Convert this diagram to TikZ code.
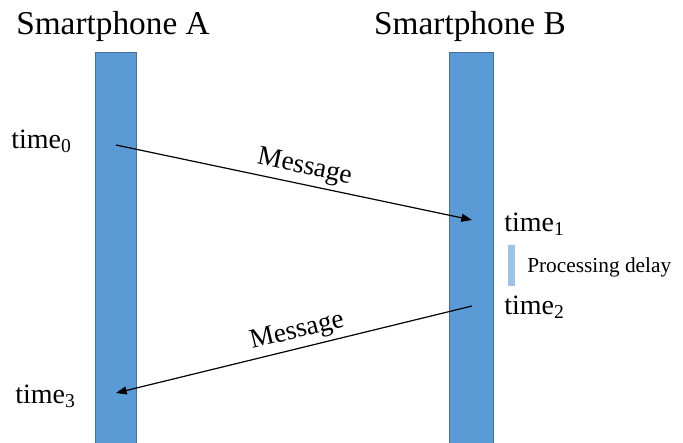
\documentclass[tikz,border=0pt]{standalone}
\usepackage{fontspec}
\setmainfont{Liberation Serif}
\usetikzlibrary{arrows.meta}
\definecolor{barblue}{RGB}{91,155,213}
\definecolor{barline}{RGB}{65,113,156}
\definecolor{delayblue}{RGB}{157,195,230}
\begin{document}
\begin{tikzpicture}[x=0.75pt,y=-0.75pt,
  lifeline/.style={draw=barline,line width=0.5pt,fill=barblue,inner sep=0pt,minimum width=#1*0.75pt},
  head/.style={font=\fontsize{25}{28}\selectfont,inner sep=0pt},
  tlabel/.style={font=\fontsize{21}{24}\selectfont,inner sep=0pt,anchor=west},
  msg/.style={draw=black,line width=0.9pt,-{Triangle[length=8pt,width=6pt]}},
  msglabel/.style={font=\fontsize{20.5}{23}\selectfont,sloped,above,inner sep=1pt,yshift=2pt}]
\useasboundingbox (0,0) rectangle (683,443);
\fill[white] (0,0) rectangle (683,443);
% lifelines
\node[lifeline=41,minimum height=392*0.75pt,anchor=north] (barA) at (115.5,52) {};
\node[lifeline=44,minimum height=392*0.75pt,anchor=north] (barB) at (471,52) {};
% headers
\node[head] (hA) at (113,26) {Smartphone A};
\node[head] (hB) at (470,26) {Smartphone B};
% time labels
\node[tlabel] (t0) at (11,141) {time\textsubscript{0}};
\node[tlabel] (t1) at (504,224) {time\textsubscript{1}};
\node[tlabel] (t2) at (504,307) {time\textsubscript{2}};
\node[tlabel] (t3) at (15,396) {time\textsubscript{3}};
% processing delay
\node[fill=delayblue,inner sep=0pt,minimum width=7*0.75pt,minimum height=41*0.75pt,anchor=north west] (delay) at (508,245) {};
\node[font=\fontsize{16}{18}\selectfont,inner sep=0pt,anchor=west] (delaytext) at (527,267) {Processing delay};
% message endpoints
\coordinate (a0) at (116,145);
\coordinate (b1) at (472,220);
\coordinate (b2) at (472,306);
\coordinate (a3) at (116,393);
\draw[msg] (a0) -- node[msglabel,pos=0.52] (m1) {Message} (b1);
\draw[msg] (b2) -- node[msglabel,pos=0.48] (m2) {Message} (a3);
\end{tikzpicture}
\end{document}
